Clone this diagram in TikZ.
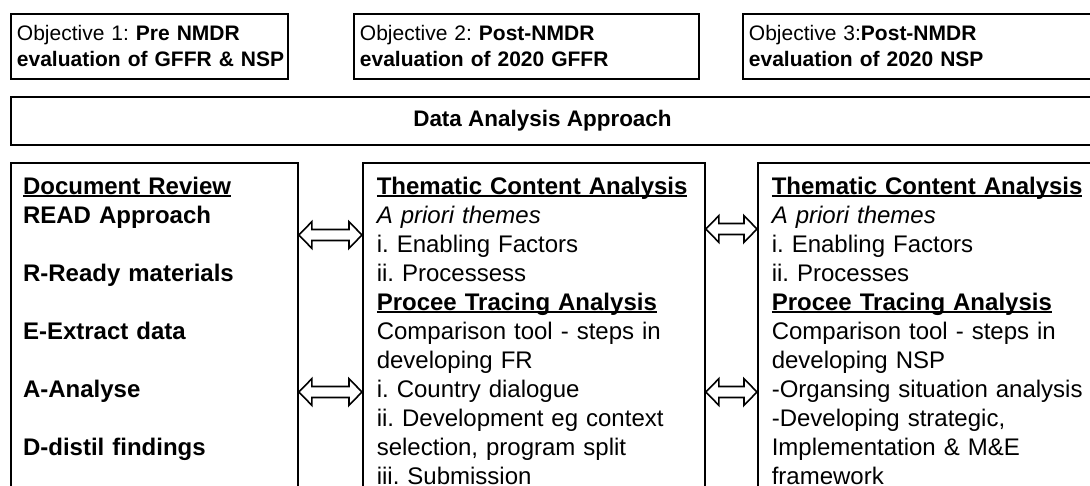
\documentclass[tikz,border=0pt]{standalone}
\usepackage{fontspec}
\setmainfont{Liberation Sans}
\usetikzlibrary{calc,positioning}

\newcommand{\ulbold}[1]{\leavevmode\setbox0\hbox{\bfseries #1}\rlap{\rule[-2.25pt]{\wd0}{1.5pt}}\box0}

\begin{document}
\frenchspacing
\begin{tikzpicture}[
    x=0.75pt, y=-0.75pt,
    every node/.style={inner sep=0pt},
    objbox/.style={draw, line width=1.4pt, anchor=north west, minimum height=48.75pt,
      inner xsep=4.5pt, align=left, font=\fontsize{15.75pt}{19.5pt}\selectfont},
    panel/.style={draw, line width=1.4pt, anchor=north west, minimum height=253.5pt},
    paneltext/.style={anchor=base west, align=left, text width=250pt,
      font=\fontsize{18pt}{21.75pt}\selectfont},
    dblarrow/.style={line width=1.2pt, line join=miter, to path={
      let \p1=(\tikztostart), \p2=(\tikztotarget) in
      -- (\x1+9.75pt,\y1+10pt) -- (\x1+9.75pt,\y1+4.1pt) -- (\x2-9.75pt,\y2+4.1pt)
      -- (\x2-9.75pt,\y2+10pt) -- (\x2,\y2) -- (\x2-9.75pt,\y2-10pt)
      -- (\x2-9.75pt,\y2-4.1pt) -- (\x1+9.75pt,\y1-4.1pt) -- (\x1+9.75pt,\y1-10pt) -- cycle}}
]

\useasboundingbox (0,0) rectangle (1090,486);
\clip (0,0) rectangle (1090,486);

% Objectives
\node[objbox, text width=198.75pt] (obj1) at (10,13)
  {\mbox{Objective 1: \textbf{Pre NMDR}}\\\mbox{\textbf{evaluation of GFFR \& NSP}}};
\node[objbox, text width=249.75pt] (obj2) at (353,13)
  {\mbox{Objective 2: \textbf{Post-NMDR}}\\\mbox{\textbf{evaluation of 2020 GFFR}}};
\node[objbox, text width=261pt] (obj3) at (742,13)
  {\mbox{Objective 3:\textbf{Post-NMDR}}\\\mbox{\textbf{evaluation of 2020 NSP}}};

% Approach banner
\node[draw, line width=1.4pt, anchor=north west, minimum width=817.5pt, minimum height=36pt] (approach) at (10,96) {};
\node[font=\fontsize{16.85pt}{20pt}\selectfont\bfseries, anchor=base] (approachlabel) at (542.5,126) {Data Analysis Approach};

% Panels
\node[panel, minimum width=215.25pt] (docbox) at (10,162) {};
\node[panel, minimum width=256.5pt] (gffrbox) at (362,162) {};
\node[panel, minimum width=258.75pt] (nspbox) at (757,162) {};

\node[paneltext, font=\fontsize{18pt}{21.75pt}\selectfont\bfseries] (doctext) at (22.8,194) {
  \ulbold{Document Review}\\
  READ Approach\\[21.75pt]
  R-Ready materials\\[21.75pt]
  E-Extract data\\[21.75pt]
  A-Analyse\\[21.75pt]
  D-distil findings};

\node[paneltext] (gffrtext) at (376.5,194) {
  \ulbold{Thematic Content Analysis}\\
  \textit{A priori themes}\\
  i. Enabling Factors\\
  ii. Processess\\
  \ulbold{Procee Tracing Analysis}\\
  Comparison tool - steps in\\
  developing FR\\
  i. Country dialogue\\
  ii. Development eg context\\
  selection, program split\\
  iii. Submission};

\node[paneltext] (nsptext) at (771.5,194) {
  \ulbold{Thematic Content Analysis}\\
  \textit{A priori themes}\\
  i. Enabling Factors\\
  ii. Processes\\
  \ulbold{Procee Tracing Analysis}\\
  Comparison tool - steps in\\
  developing NSP\\
  -Organsing situation analysis\\
  -Developing strategic,\\
  Implementation \& M\&E\\
  framework};

% Links between panels
\foreach \ya/\yb [count=\i] in {235/229,392/392} {
  \coordinate (dl\i) at (docbox.east |- 0,\ya);
  \coordinate (gl\i) at (gffrbox.west |- 0,\ya);
  \coordinate (gr\i) at (gffrbox.east |- 0,\yb);
  \coordinate (nl\i) at (nspbox.west |- 0,\yb);
  \draw[dblarrow] (dl\i) to (gl\i);
  \draw[dblarrow] (gr\i) to (nl\i);
}

\end{tikzpicture}
\end{document}
